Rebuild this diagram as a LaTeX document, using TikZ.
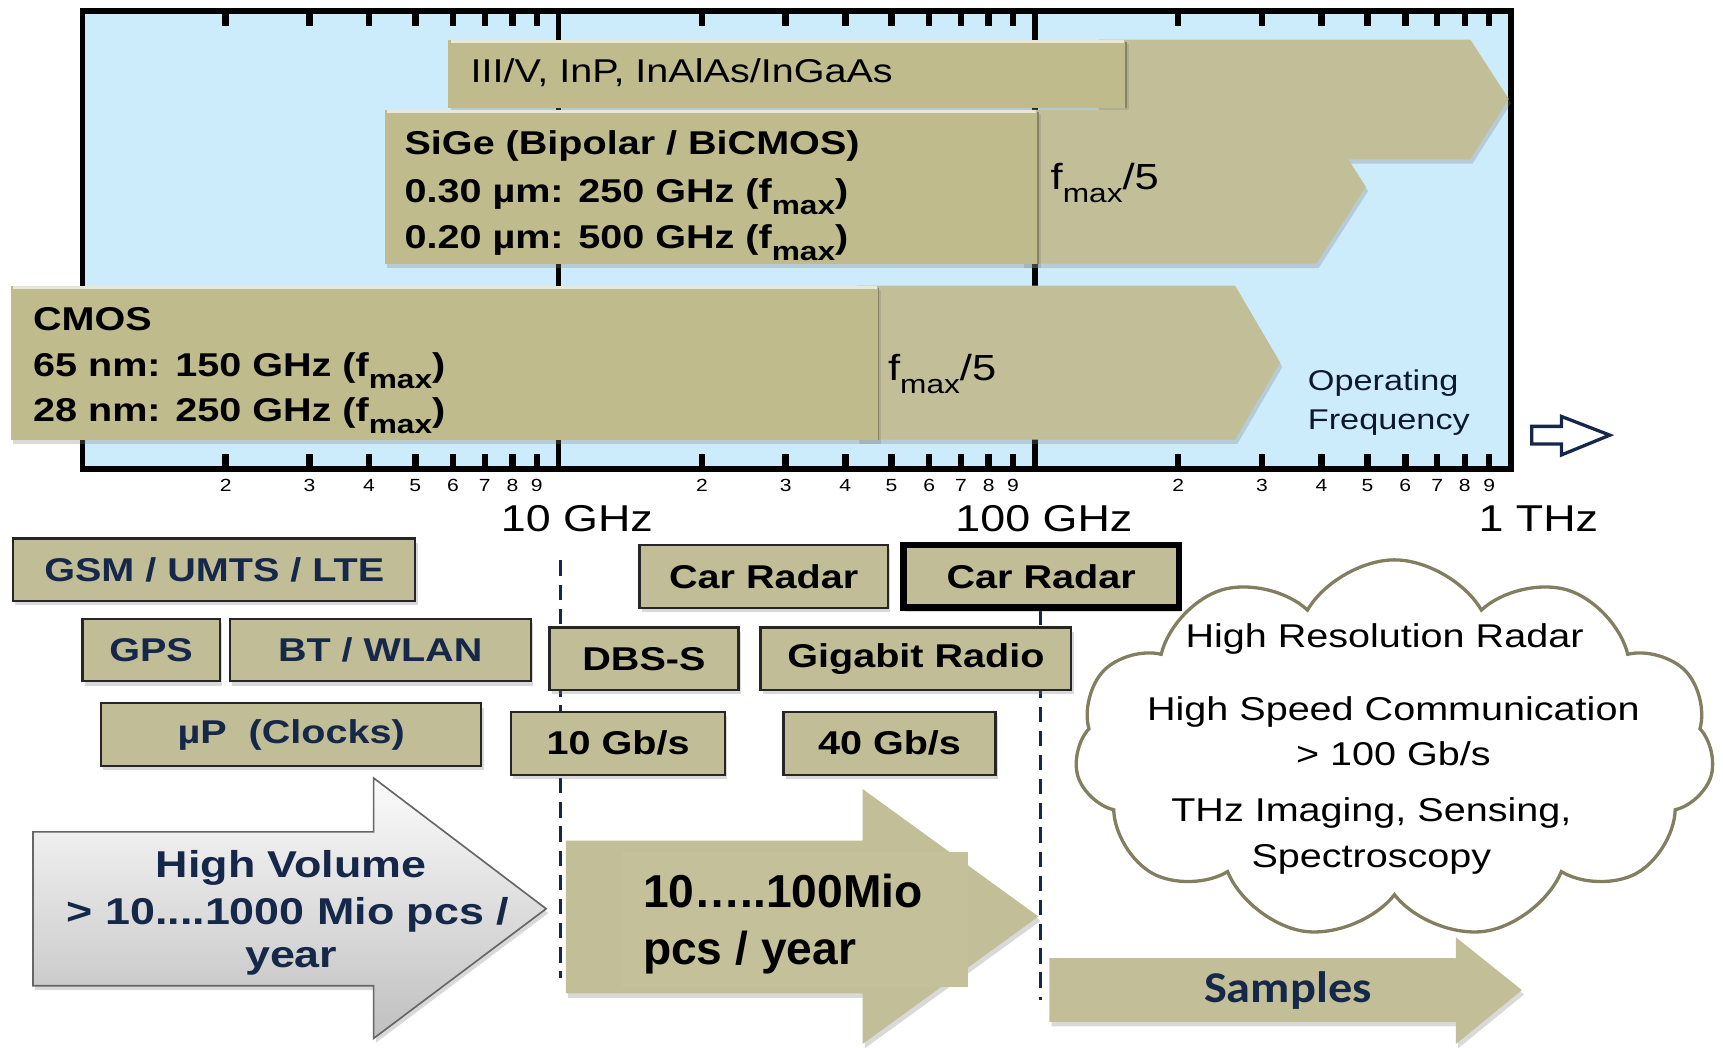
\documentclass[tikz,border=0pt]{standalone}
\usepackage{fontspec}
\setmainfont[FakeStretch=1.2]{Liberation Sans}
\newfontfamily\plainsans{Liberation Sans}
\newfontfamily\calibri[FakeStretch=1.1]{Carlito}
\usetikzlibrary{shapes.symbols,shadows}
\definecolor{skyb}{RGB}{204,236,252}
\definecolor{khaki}{RGB}{191,187,141}
\definecolor{khakiL}{RGB}{194,191,152}
\definecolor{boxk}{RGB}{193,189,150}
\definecolor{navy}{RGB}{22,40,74}
\definecolor{cloudc}{RGB}{130,126,96}
\newcommand\fs[1]{\fontsize{#1}{#1}\selectfont}
\newcommand\fmax{f\raisebox{-0.36em}{\fs{24}max}}
\begin{document}
\begin{tikzpicture}[x=1pt,y=-1pt,
  shd/.style={drop shadow={shadow xshift=2pt,shadow yshift=-4pt,opacity=0.3}},
  bar/.style={fill=khaki,shd},
  ext/.style={fill=khakiL,shd},
  hil/.style={khaki!35!white,line width=3},
  rim/.style={khaki!70!black,line width=1.5},
  bartxt/.style={anchor=base west,font=\bfseries\fs{30},inner sep=0},
  normtxt/.style={anchor=base west,font=\fs{30},inner sep=0},
  fivetxt/.style={anchor=base west,font=\fs{33},inner sep=0},
  box/.style={draw=black!85,line width=2,fill=boxk,minimum height=57,inner sep=0,font=\bfseries\fs{30},shd},
  ticklbl/.style={anchor=base,font=\fs{16},inner sep=0},
  declbl/.style={anchor=base,font=\fs{34},inner sep=0},
  cloudtxt/.style={font=\fs{30},inner sep=0,anchor=base},
  dline/.style={navy,line width=2.5,dash pattern=on 14pt off 8pt}]
\useasboundingbox (0,0) rectangle (1568,953);

% frame
\coordinate (fTL) at (75,10);
\coordinate (fBR) at (1375,427);
\fill[skyb] (fTL) rectangle (fBR);
\draw[line width=5] (508.3,10) -- (508.3,427);
\draw[line width=5] (941.7,10) -- (941.7,427);
\draw[line width=5] (fTL) rectangle (fBR);
% ticks
\foreach \off in {75,508.33,941.67}{
  \foreach \n/\lx in {2/130.45,3/206.75,4/260.89,5/302.89,6/337.20,7/366.21,8/391.34,9/413.50}{
    \draw[line width=6] ({\off+\lx},10) -- ({\off+\lx},24);
    \draw[line width=6] ({\off+\lx},427) -- ({\off+\lx},413);
    \node[ticklbl] at ({\off+\lx},447) {\n};
  }
}

% III/V bar
\path[ext] (1000,36) -- (1338,36) -- (1373,90) -- (1338,145) -- (1000,145) -- cycle;
\path[bar] (408,36) rectangle (1025,98);
\draw[hil] (410,37.5) -- (1023,37.5);
\draw[rim] (1024.5,38) -- (1024.5,98);
\node[normtxt] (t35) at (428,75) {III/V, InP, InAlAs/InGaAs};

% SiGe bar
\path[ext] (930,100) -- (1198,100) -- (1243,170) -- (1198,240) -- (930,240) -- cycle;
\path[bar] (350,100) rectangle (945,240);
\draw[hil] (352,101.5) -- (943,101.5);
\draw[rim] (944.5,102) -- (944.5,240);
\node[bartxt] (s1) at (368,141) {SiGe (Bipolar / BiCMOS)};
\node[bartxt] (s2) at (368,184) {0.30 µm: 250 GHz (\fmax)};
\node[bartxt] (s3) at (368,226) {0.20 µm: 500 GHz (\fmax)};
\node[fivetxt] (s4) at (956,172) {\fmax/5};

% CMOS bar
\path[ext] (780,260) -- (1124,260) -- (1165,330) -- (1124,400) -- (780,400) -- cycle;
\path[bar] (10,260) rectangle (800,400);
\draw[hil] (12,261.5) -- (798,261.5);
\draw[rim] (799.5,262) -- (799.5,400);
\node[bartxt] (c1) at (30,301) {CMOS};
\node[bartxt] (c2) at (30,343) {65 nm: 150 GHz (\fmax)};
\node[bartxt] (c3) at (30,384) {28 nm: 250 GHz (\fmax)};
\node[fivetxt] (c4) at (808,346) {\fmax/5};

% operating frequency
\node[anchor=base west,font=\fs{26},inner sep=0,text=navy!60!black] (op1) at (1190,355) {Operating};
\node[anchor=base west,font=\fs{26},inner sep=0,text=navy!60!black] (op2) at (1190,391) {Frequency};
\draw[navy,line width=3,fill=white,line join=miter] (1394,388) -- (1421,388) -- (1421,379) -- (1465,396) -- (1421,414) -- (1421,404) -- (1394,404) -- cycle;

% decade labels
\node[declbl] (d10) at (525,484) {10 GHz};
\node[declbl] (d100) at (950,484) {100 GHz};
\node[declbl] (d1t) at (1400,484) {1 THz};

% dashed lines
\coordinate (dl1a) at (510,510);
\coordinate (dl1b) at (510,890);
\coordinate (dl2a) at (947,555);
\coordinate (dl2b) at (947,910);
\draw[dline] (dl1a) -- (dl1b);
\draw[dline] (dl2a) -- (dl2b);

% application boxes
\node[box,text=navy,minimum width=366] (gsm) at (195,518.5) {GSM / UMTS / LTE};
\node[box,text=navy,minimum width=125] (gps) at (137.5,591.5) {GPS};
\node[box,text=navy,minimum width=274] (bt) at (346,591.5) {BT / WLAN};
\node[box,text=navy,minimum width=346] (up) at (265,668.5) {µP\ \ (Clocks)};
\node[box,text=black,minimum width=226] (car1) at (695,524.5) {Car Radar};
\node[box,text=black,minimum width=251,draw=black,line width=6] (car2) at (947.5,524.5) {Car Radar};
\node[box,text=black,minimum width=172] (dbs) at (586,599.5) {DBS-S};
\node[box,text=black,minimum width=283] (gig) at (833.5,599.5) {Gigabit Radio};
\node[box,text=black,minimum width=195] (g10) at (562.5,676.5) {10 Gb/s};
\node[box,text=black,minimum width=193] (g40) at (809.5,676.5) {40 Gb/s};

% cloud
\node[cloud,cloud puffs=11,cloud puff arc=120,aspect=1.7,draw=cloudc,line width=3,fill=white,minimum width=582,minimum height=345] (cloud) at (1269,682) {};
\node[cloudtxt] (cl1) at (1260,589) {High Resolution Radar};
\node[cloudtxt] (cl2) at (1268,656) {High Speed Communication};
\node[cloudtxt] (cl3) at (1268,697) {> 100 Gb/s};
\node[cloudtxt] (cl4) at (1248,748) {THz Imaging, Sensing,};
\node[cloudtxt] (cl5) at (1248,789) {Spectroscopy};

% high volume arrow
\path[top color=white!97!gray,bottom color=black!25,draw=black!60,line width=1.5,shd]
  (30,757) -- (340,757) -- (340,708) -- (497,827) -- (340,945) -- (340,897) -- (30,897) -- cycle;
\node[anchor=base,font=\bfseries\fs{34},text=navy,inner sep=0] (hv1) at (265,799) {High Volume};
\node[anchor=base,font=\bfseries\fs{34},text=navy,inner sep=0] (hv2) at (262,841) {> 10....1000 Mio pcs /};
\node[anchor=base,font=\bfseries\fs{34},text=navy,inner sep=0] (hv3) at (265,880) {year};

% 10..100 Mio arrow
\path[fill=khakiL,shd] (515,765) -- (785,765) -- (785,718) -- (945,834) -- (785,950) -- (785,904) -- (515,904) -- cycle;
\fill[boxk!96!white] (566,775) rectangle (881,898);
\node[anchor=base west,font=\plainsans\bfseries\fs{42},inner sep=0] (mid1) at (585,826) {10…..100Mio};
\node[anchor=base west,font=\plainsans\bfseries\fs{42},inner sep=0] (mid2) at (585,878) {pcs / year};

% samples arrow
\path[fill=khakiL,shd] (955,872) -- (1325,872) -- (1325,853) -- (1385,901) -- (1325,950) -- (1325,930) -- (955,930) -- cycle;
\node[font=\calibri\bfseries\fs{40},text=navy,inner sep=0] (smp) at (1172,901) {Samples};
\end{tikzpicture}
\end{document}
